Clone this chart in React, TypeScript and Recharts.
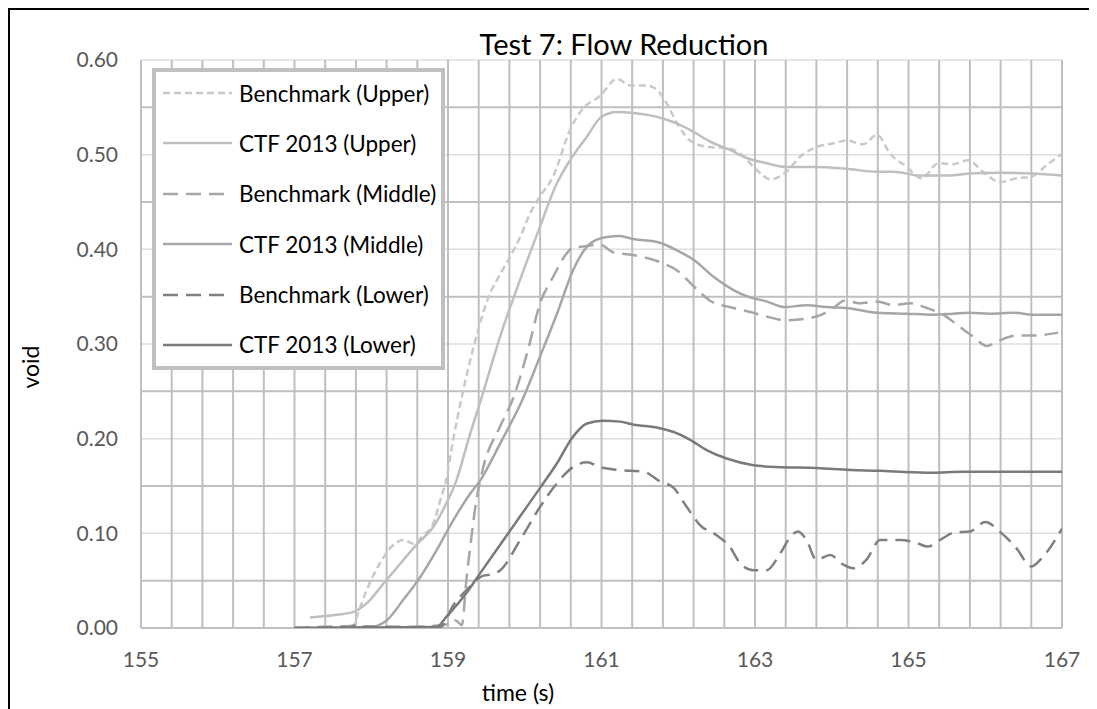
import { CartesianGrid, Legend, Line, LineChart, XAxis, YAxis } from "recharts";

// readings, [time (s), void]
const benchmarkUpper: [number, number][] = [
  [157.0, 0], [157.6, 0.001], [157.77, 0.003], [157.83, 0.016], [157.94, 0.04],
  [158.11, 0.068], [158.29, 0.088], [158.42, 0.093], [158.55, 0.089], [158.68, 0.098],
  [158.81, 0.111], [158.9, 0.135], [158.98, 0.158], [159.07, 0.2], [159.18, 0.244],
  [159.37, 0.308], [159.53, 0.35], [159.66, 0.371], [159.76, 0.385], [159.94, 0.413],
  [160.07, 0.438], [160.2, 0.456], [160.37, 0.477], [160.59, 0.526], [160.74, 0.547],
  [160.98, 0.562], [161.2, 0.58], [161.38, 0.573], [161.59, 0.573], [161.74, 0.567],
  [161.85, 0.554], [162.0, 0.531], [162.17, 0.514], [162.4, 0.508], [162.63, 0.507],
  [162.81, 0.501], [163.02, 0.484], [163.2, 0.474], [163.41, 0.482], [163.59, 0.498],
  [163.8, 0.508], [164.02, 0.512], [164.19, 0.515], [164.41, 0.511], [164.59, 0.521],
  [164.76, 0.501], [164.98, 0.487], [165.17, 0.475], [165.39, 0.491], [165.58, 0.49],
  [165.78, 0.494], [165.97, 0.482], [166.19, 0.471], [166.41, 0.475], [166.61, 0.477],
  [166.8, 0.489], [167.0, 0.501],
];

const ctfUpper: [number, number][] = [
  [157.2, 0.011], [157.55, 0.014], [157.77, 0.017], [157.94, 0.026], [158.16, 0.047],
  [158.42, 0.072], [158.59, 0.088], [158.81, 0.107], [158.98, 0.132], [159.11, 0.156],
  [159.27, 0.2], [159.44, 0.244], [159.68, 0.308], [159.94, 0.368], [160.18, 0.42],
  [160.42, 0.47], [160.59, 0.494], [160.81, 0.519], [161.0, 0.54], [161.2, 0.545],
  [161.41, 0.544], [161.81, 0.538], [161.98, 0.533], [162.2, 0.524], [162.41, 0.514],
  [162.67, 0.505], [162.91, 0.496], [163.15, 0.491], [163.39, 0.487], [163.8, 0.487],
  [164.19, 0.485], [164.59, 0.482], [164.8, 0.482], [165.15, 0.478], [165.5, 0.478],
  [165.8, 0.48], [166.19, 0.481], [166.61, 0.48], [167.0, 0.478],
];

const benchmarkMiddle: [number, number][] = [
  [157.0, 0], [157.8, 0.002], [158.5, 0.001], [159.0, 0.004], [159.1, 0.008],
  [159.18, 0.003], [159.24, 0.051], [159.29, 0.086], [159.37, 0.135], [159.46, 0.17],
  [159.68, 0.213], [159.85, 0.243], [160.03, 0.29], [160.2, 0.343], [160.37, 0.371],
  [160.55, 0.396], [160.63, 0.402], [160.76, 0.403], [160.98, 0.405], [161.15, 0.397],
  [161.41, 0.394], [161.81, 0.385], [161.98, 0.378], [162.2, 0.361], [162.41, 0.346],
  [162.72, 0.338], [162.93, 0.334], [163.15, 0.329], [163.41, 0.325], [163.8, 0.329],
  [164.02, 0.338], [164.17, 0.346], [164.37, 0.343], [164.59, 0.345], [164.8, 0.341],
  [165.02, 0.343], [165.24, 0.338], [165.45, 0.331], [165.67, 0.318], [165.84, 0.308],
  [166.02, 0.298], [166.19, 0.304], [166.41, 0.309], [166.63, 0.309], [166.95, 0.312],
];

const ctfMiddle: [number, number][] = [
  [157.0, 0], [157.98, 0.001], [158.2, 0.008], [158.42, 0.03], [158.64, 0.054],
  [158.85, 0.082], [159.07, 0.114], [159.29, 0.142], [159.42, 0.156], [159.68, 0.195],
  [159.98, 0.243], [160.2, 0.287], [160.42, 0.332], [160.63, 0.378], [160.85, 0.406],
  [161.07, 0.413], [161.24, 0.414], [161.41, 0.411], [161.76, 0.407], [161.98, 0.399],
  [162.2, 0.389], [162.46, 0.371], [162.72, 0.357], [162.91, 0.35], [163.15, 0.345],
  [163.39, 0.339], [163.67, 0.341], [163.93, 0.339], [164.19, 0.338], [164.59, 0.333],
  [164.98, 0.332], [165.32, 0.331], [165.58, 0.332], [165.8, 0.333], [166.06, 0.332],
  [166.37, 0.333], [166.63, 0.331], [167.0, 0.331],
];

const benchmarkLower: [number, number][] = [
  [157.0, 0], [157.75, 0.001], [157.8, 0.004], [157.9, 0.001], [158.9, 0.001],
  [159.07, 0.024], [159.29, 0.044], [159.45, 0.055], [159.59, 0.057], [159.68, 0.061],
  [159.94, 0.093], [160.2, 0.128], [160.42, 0.153], [160.63, 0.17], [160.81, 0.175],
  [160.98, 0.17], [161.2, 0.167], [161.55, 0.165], [161.76, 0.155], [161.94, 0.148],
  [162.11, 0.128], [162.28, 0.109], [162.5, 0.098], [162.67, 0.086], [162.81, 0.068],
  [162.98, 0.061], [163.15, 0.061], [163.33, 0.079], [163.46, 0.096], [163.56, 0.102],
  [163.67, 0.093], [163.8, 0.072], [163.98, 0.077], [164.15, 0.067], [164.28, 0.063],
  [164.45, 0.072], [164.63, 0.093], [164.89, 0.093], [165.1, 0.09], [165.25, 0.086],
  [165.45, 0.095], [165.6, 0.101], [165.8, 0.102], [166.0, 0.112], [166.2, 0.101],
  [166.4, 0.085], [166.6, 0.065], [166.75, 0.075], [167.0, 0.105],
];

const ctfLower: [number, number][] = [
  [157.0, 0], [158.85, 0.001], [158.98, 0.012], [159.24, 0.037], [159.42, 0.058],
  [159.68, 0.088], [159.94, 0.118], [160.2, 0.148], [160.42, 0.174], [160.61, 0.2],
  [160.81, 0.216], [161.02, 0.219], [161.24, 0.218], [161.41, 0.215], [161.76, 0.211],
  [161.94, 0.207], [162.15, 0.199], [162.37, 0.188], [162.63, 0.179], [162.98, 0.172],
  [163.28, 0.17], [163.8, 0.169], [164.24, 0.167], [164.63, 0.166], [164.89, 0.165],
  [165.3, 0.164], [165.7, 0.165], [166.2, 0.165], [166.6, 0.165], [167.0, 0.165],
];

// vertical grid every 0.4 s, labels only on odd seconds
const timeTicks = Array.from({ length: 31 }, (_, i) => +(155 + i * 0.4).toFixed(1));
const labeledTimes = [155, 157, 159, 161, 163, 165, 167];
const voidTicks = [0, 0.1, 0.2, 0.3, 0.4, 0.5, 0.6];
const lightLevels = [0.1, 0.2, 0.3, 0.4, 0.5, 0.6];
const darkLevels = [0, 0.05, 0.15, 0.25, 0.35, 0.45, 0.55];

const FONT = "Lato, 'Open Sans', sans-serif";

const series = [
  { name: "Benchmark (Upper)", points: benchmarkUpper, color: "#c9c9c9", dash: "7 4" },
  { name: "CTF 2013 (Upper)", points: ctfUpper, color: "#bfbfbf", dash: undefined },
  { name: "Benchmark (Middle)", points: benchmarkMiddle, color: "#a6a6a6", dash: "15 8" },
  { name: "CTF 2013 (Middle)", points: ctfMiddle, color: "#a6a6a6", dash: undefined },
  { name: "Benchmark (Lower)", points: benchmarkLower, color: "#808080", dash: "15 8" },
  { name: "CTF 2013 (Lower)", points: ctfLower, color: "#7a7a7a", dash: undefined },
];

function LegendBox() {
  return (
    <div
      style={{
        width: 285,
        height: 294,
        border: "4px solid #bfbfbf",
        background: "#fff",
        display: "flex",
        flexDirection: "column",
        justifyContent: "space-between",
        padding: "0",
        fontFamily: FONT,
      }}
    >
      {series.map((s, i) => (
        <div
          key={s.name}
          style={{
            display: "flex",
            alignItems: "center",
            height: 42,
            paddingLeft: 7,
            marginTop: i === 0 ? 0 : 0,
          }}
        >
          <svg width={69} height={6} style={{ flex: "none" }}>
            <line
              x1={0}
              y1={3}
              x2={69}
              y2={3}
              stroke={s.color}
              strokeWidth={2.5}
              strokeDasharray={s.dash}
            />
          </svg>
          <span style={{ marginLeft: 7, fontSize: 22.5, color: "#000", whiteSpace: "nowrap" }}>
            {s.name}
          </span>
        </div>
      ))}
    </div>
  );
}

export default function App() {
  return (
    <div
      style={{
        position: "relative",
        width: 1087,
        height: 699,
        borderLeft: "2px solid #000",
        borderTop: "2px solid #000",
        fontFamily: FONT,
        background: "#fff",
      }}
    >
      <div
        style={{
          position: "absolute",
          left: 614,
          top: 33,
          transform: "translate(-50%, -50%)",
          fontSize: 29,
          lineHeight: 1,
          whiteSpace: "nowrap",
          color: "#000",
        }}
      >
        Test 7: Flow Reduction
      </div>
      <div
        style={{
          position: "absolute",
          left: 20,
          top: 357,
          transform: "translate(-50%, -50%) rotate(-90deg)",
          fontSize: 23,
          lineHeight: 1,
          whiteSpace: "nowrap",
          color: "#000",
        }}
      >
        void
      </div>
      <div
        style={{
          position: "absolute",
          left: 508,
          top: 682,
          transform: "translate(-50%, -50%)",
          fontSize: 23,
          lineHeight: 1,
          whiteSpace: "nowrap",
          color: "#000",
        }}
      >
        time (s)
      </div>

      <LineChart
        width={1087}
        height={699}
        margin={{ top: 50, right: 35, left: 0, bottom: 51 }}
        style={{ position: "absolute", left: 0, top: 0 }}
      >
        <CartesianGrid vertical={false} horizontalValues={lightLevels} stroke="#dedede" strokeWidth={1.5} />
        <CartesianGrid vertical={false} horizontalValues={darkLevels} stroke="#bfbfbf" strokeWidth={2} />
        <CartesianGrid horizontal={false} stroke="#bfbfbf" strokeWidth={2} />
        <XAxis
          type="number"
          dataKey="t"
          domain={[155, 167]}
          ticks={timeTicks}
          interval={0}
          allowDataOverflow
          tickFormatter={(v: number) => (labeledTimes.includes(v) ? String(v) : "")}
          tickLine={false}
          axisLine={false}
          tickSize={0}
          tickMargin={24}
          height={30}
          tick={{ fill: "#595959", fontSize: 21, fontFamily: FONT }}
        />
        <YAxis
          type="number"
          domain={[0, 0.6]}
          ticks={voidTicks}
          interval={0}
          allowDataOverflow
          tickFormatter={(v: number) => v.toFixed(2)}
          tickLine={false}
          axisLine={false}
          tickSize={0}
          tickMargin={23}
          width={131}
          tick={{ fill: "#595959", fontSize: 21, fontFamily: FONT }}
        />
        <Legend
          layout="vertical"
          align="center"
          verticalAlign="middle"
          wrapperStyle={{ left: 142, top: 58, width: "auto" }}
          content={() => <LegendBox />}
        />
        {series.map((s) => (
          <Line
            key={s.name}
            name={s.name}
            data={s.points.map(([t, v]) => ({ t, v }))}
            dataKey="v"
            type="monotone"
            stroke={s.color}
            strokeWidth={2.5}
            strokeDasharray={s.dash}
            dot={false}
            activeDot={false}
            isAnimationActive={false}
          />
        ))}
      </LineChart>
    </div>
  );
}
